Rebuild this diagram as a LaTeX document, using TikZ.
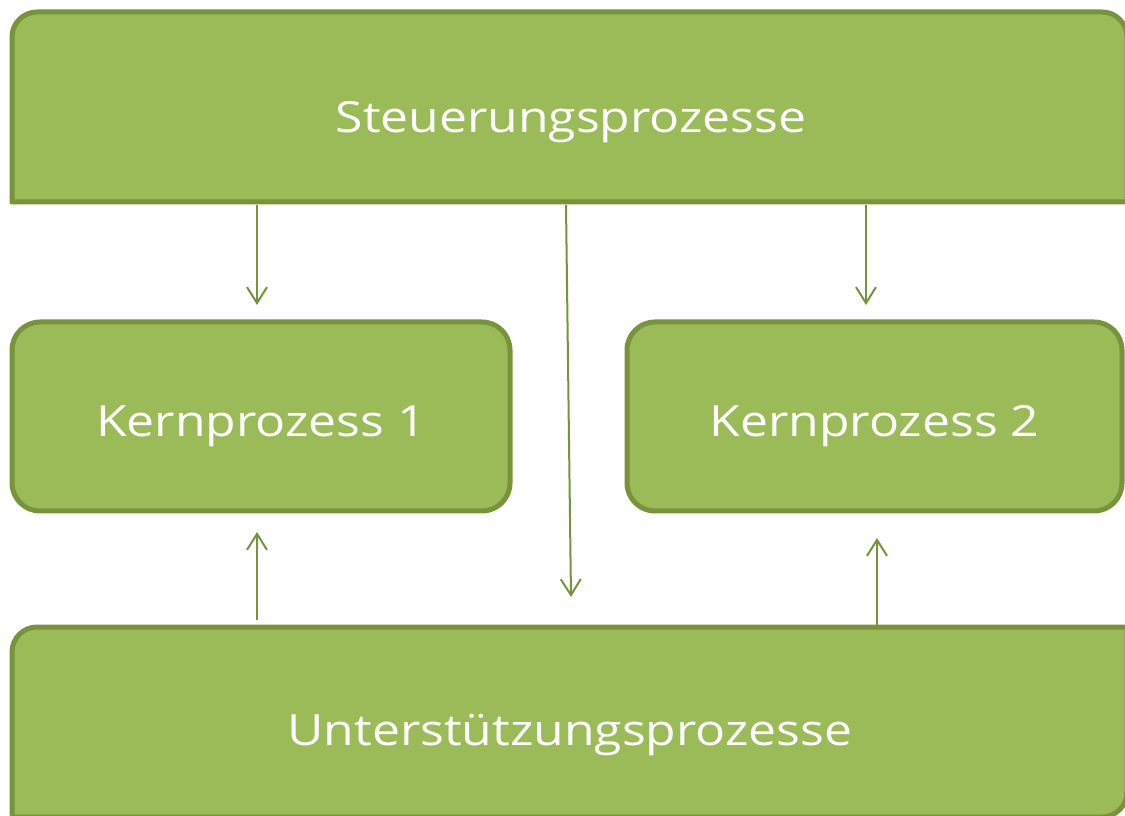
\documentclass[tikz,border=0pt]{standalone}
\usepackage{fontspec}
\setmainfont{Open Sans}[FakeStretch=1.16]
\usetikzlibrary{arrows.meta}
\definecolor{boxfill}{HTML}{9BBB59}
\definecolor{boxedge}{HTML}{77933C}
\newcommand\boxfont{\fontsize{43}{52}\selectfont}
\begin{document}
\begin{tikzpicture}[x=1pt,y=1pt,
  shapeline/.style={draw=boxedge,fill=boxfill,line width=5pt,line join=round},
  kbox/.style={shapeline,rounded corners=28pt,minimum height=189pt,inner sep=0pt,
    text height=40pt,text depth=0pt,text=white,font=\boxfont},
  lbl/.style={text=white,font=\boxfont,inner sep=0pt,anchor=base},
  conn/.style={draw=boxedge,line width=2pt,-{Straight Barb[length=16pt,width=20pt]}}
]
\useasboundingbox (0,0) rectangle (1125,815);
\clip (0,0) rectangle (1125,815);
% top box: rounded top corners
\draw[shapeline] (12,613) -- (12,778) arc[start angle=180,end angle=90,radius=25]
  -- (1102,803) arc[start angle=90,end angle=0,radius=25] -- (1127,613) -- cycle;
% bottom box: rounded top-left and bottom-right corners
\draw[shapeline] (12,-2) -- (12,163) arc[start angle=180,end angle=90,radius=25]
  -- (1127,188) -- (1127,23) arc[start angle=0,end angle=-90,radius=25] -- cycle;
\node[lbl] (steuer) at (571,682) {Steuerungsprozesse};
\node[lbl] (unter) at (570,70) {Unterstützungsprozesse};
\node[kbox,minimum width=498pt] (kern1) at (261,398.5) {Kernprozess 1};
\node[kbox,minimum width=495pt] (kern2) at (874.5,398.5) {Kernprozess 2};
% connector end points
\coordinate (s1) at (257,610);
\coordinate (e1) at (257,510);
\coordinate (s2) at (566,610);
\coordinate (e2) at (571,218);
\coordinate (s3) at (866,610);
\coordinate (e3) at (866,510);
\coordinate (u1) at (257,195);
\coordinate (f1) at (257,283);
\coordinate (u2) at (877,189);
\coordinate (f2) at (877,277);
\draw[conn] (s1) -- (e1);
\draw[conn] (s2) -- (e2);
\draw[conn] (s3) -- (e3);
\draw[conn] (u1) -- (f1);
\draw[conn] (u2) -- (f2);
\end{tikzpicture}
\end{document}
